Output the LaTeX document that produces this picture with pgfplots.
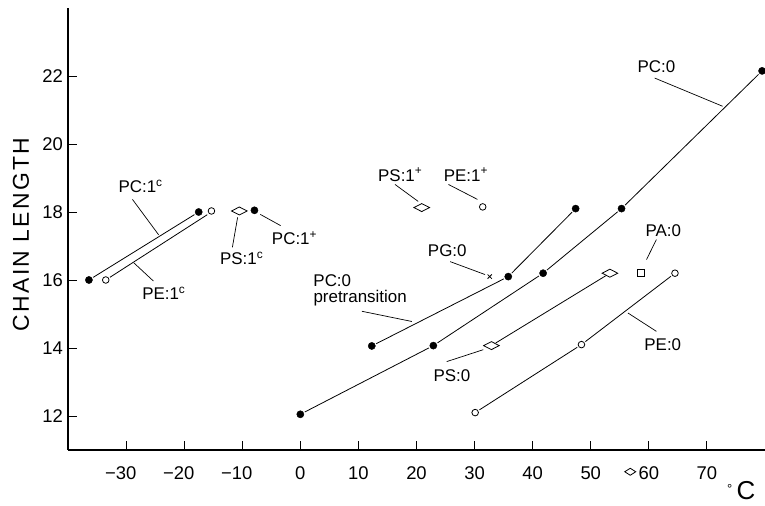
\documentclass[border=0pt]{standalone}
\usepackage{pgfplots}
\pgfplotsset{compat=1.18}
\usepackage{fontspec}
\setmainfont{Liberation Sans}
\newcommand{\lab}{\fontsize{17}{20}\selectfont}
\newcommand{\tlab}{\fontsize{18.5}{21}\selectfont}
\begin{document}
\begin{tikzpicture}[x=1bp,y=1bp,
  seg/.style={black, line width=0.8pt, shorten <=5bp, shorten >=5bp},
  lead/.style={black, line width=0.7pt},
  ann/.style={font=\lab, inner sep=0pt, anchor=base},
  tlx/.style={font=\tlab, inner sep=0pt, anchor=base},
  tly/.style={font=\tlab, inner sep=0pt, anchor=base east, xshift=-5bp},
]
\begin{axis}[
  at={(0,0)}, anchor=south west,
  scale only axis, width=697bp, height=442bp,
  xmin=-40, xmax=80, ymin=11, ymax=24,
  axis x line*=bottom, axis y line*=left,
  axis line style={line width=1.4pt,-},
  xtick={-30,-20,...,70}, ytick={12,14,...,22},
  xticklabels={}, yticklabels={},
  tick align=inside, major tick length=9bp,
  tick style={line width=0.9pt,black},
  clip=false,
  fdot/.style={only marks, mark=*, mark size=3.6bp, mark options={fill=black, draw=black}},
  odot/.style={only marks, mark=o, mark size=3.3bp, mark options={line width=0.8pt, draw=black}},
  dia/.style={only marks, mark=diamond, mark size=4bp, mark options={xscale=2.6, line width=0.8pt, draw=black, fill=white}},
]
% ---- line segments ----
% PC:1c
\addplot[seg, mark=none] coordinates {(-36.4,16) (-17.5,18)};
% PE:1c
\addplot[seg, mark=none] coordinates {(-33.5,16) (-15.3,18)};
% PC:0 pretransition
\addplot[seg, mark=none] coordinates {(12.3,14.06) (35.8,16.1)};
\addplot[seg, mark=none] coordinates {(35.8,16.1) (47.4,18.1)};
% PC:0
\addplot[seg, mark=none] coordinates {(0,12.05) (22.9,14.07)};
\addplot[seg, mark=none] coordinates {(22.9,14.07) (41.8,16.2)};
\addplot[seg, mark=none] coordinates {(41.8,16.2) (55.3,18.1)};
\addplot[seg, mark=none] coordinates {(55.3,18.1) (79.5,22.15)};
% PS:0
\addplot[seg, mark=none] coordinates {(32.9,14.07) (53.3,16.2)};
% PE:0
\addplot[seg, mark=none] coordinates {(30.1,12.1) (48.4,14.1)};
\addplot[seg, mark=none] coordinates {(48.4,14.1) (64.5,16.2)};
% ---- markers ----
\addplot[fdot] coordinates {(-36.4,16) (-17.5,18) (-7.9,18.05)
  (0,12.05) (12.3,14.06) (22.9,14.07) (35.8,16.1) (41.8,16.2) (47.4,18.1) (55.3,18.1) (79.5,22.15)};
\addplot[odot] coordinates {(-33.5,16) (-15.3,18.03) (31.4,18.15)
  (30.1,12.1) (48.4,14.1) (64.5,16.2)};
\addplot[dia] coordinates {(-10.5,18.03) (20.9,18.13) (32.9,14.07) (53.3,16.2)};
\addplot[only marks, mark=diamond, mark size=3.5bp, mark options={xscale=2.1, line width=0.8pt, draw=black, fill=white}] coordinates {(56.8,10.36)};
\addplot[only marks, mark=square, mark size=3.4bp, mark options={line width=0.8pt}] coordinates {(58.7,16.2)};
\addplot[only marks, mark=x, mark size=3bp, mark options={line width=0.8pt}] coordinates {(32.6,16.1)};
% ---- tick labels ----
\node[tlx] at (axis cs:-30,10.13) {\llap{−}30};
\node[tlx] at (axis cs:-20,10.13) {\llap{−}20};
\node[tlx] at (axis cs:-10,10.13) {\llap{−}10};
\node[tlx] at (axis cs:0,10.13) {0};
\node[tlx] at (axis cs:10,10.13) {10};
\node[tlx] at (axis cs:20,10.13) {20};
\node[tlx] at (axis cs:30,10.13) {30};
\node[tlx] at (axis cs:40,10.13) {40};
\node[tlx] at (axis cs:50,10.13) {50};
\node[tlx] at (axis cs:60,10.13) {60};
\node[tlx] at (axis cs:70,10.13) {70};
\node[tly] at (axis cs:-40,11.805) {12};
\node[tly] at (axis cs:-40,13.805) {14};
\node[tly] at (axis cs:-40,15.805) {16};
\node[tly] at (axis cs:-40,17.805) {18};
\node[tly] at (axis cs:-40,19.805) {20};
\node[tly] at (axis cs:-40,21.805) {22};
% ---- labels and leaders ----
\node[ann] at (axis cs:-27.5,18.56) {PC:1\textsuperscript{c}};
\draw[lead] (axis cs:-28.9,18.37) -- (axis cs:-24.4,17.33);
\node[ann] at (axis cs:-23.5,15.42) {PE:1\textsuperscript{c}};
\draw[lead] (axis cs:-28.7,16.51) -- (axis cs:-25.3,15.97);
\node[ann] at (axis cs:-10.1,16.45) {PS:1\textsuperscript{c}};
\draw[lead] (axis cs:-10.8,17.84) -- (axis cs:-11.7,16.96);
\node[ann] at (axis cs:-1.0,17.04) {PC:1\textsuperscript{+}};
\draw[lead] (axis cs:-6.9,17.93) -- (axis cs:-3.4,17.6);
\node[ann] at (axis cs:17.2,18.91) {PS:1\textsuperscript{+}};
\draw[lead] (axis cs:16.3,18.81) -- (axis cs:20.3,18.31);
\node[ann] at (axis cs:28.5,18.91) {PE:1\textsuperscript{+}};
\draw[lead] (axis cs:25.5,18.81) -- (axis cs:30.5,18.37);
\node[ann] at (axis cs:25.3,16.70) {PG:0};
\draw[lead] (axis cs:25.8,16.54) -- (axis cs:31.8,16.16);
\node[ann] at (axis cs:5.5,15.81) {PC:0};
\node[ann] at (axis cs:10.3,15.33) {pretransition};
\draw[lead] (axis cs:10.6,15.08) -- (axis cs:19.2,14.78);
\node[ann] at (axis cs:61.3,22.11) {PC:0};
\draw[lead] (axis cs:61.0,21.94) -- (axis cs:72.7,21.11);
\node[ann] at (axis cs:62.5,17.29) {PA:0};
\draw[lead] (axis cs:61.3,17.19) -- (axis cs:59.6,16.60);
\node[ann] at (axis cs:26.1,13.01) {PS:0};
\draw[lead] (axis cs:25.2,13.6) -- (axis cs:31.5,13.95);
\node[ann] at (axis cs:62.4,13.93) {PE:0};
\draw[lead] (axis cs:61.3,14.49) -- (axis cs:56.4,15.03);
% axis labels
\node[rotate=90, inner sep=0pt, font=\fontsize{23}{26}\selectfont\addfontfeatures{LetterSpace=10}] at (axis cs:-48.1,17.34) {CHAIN LENGTH};
\node[inner sep=0pt, font=\fontsize{26}{28}\selectfont] at (axis cs:75.9,9.82) {{\fontsize{13}{13}\selectfont\raisebox{6bp}{°}}\,C};
\end{axis}
\pgfresetboundingbox
\path[use as bounding box] (-68bp,-56bp) rectangle (697bp,450bp);
\end{tikzpicture}
\end{document}
